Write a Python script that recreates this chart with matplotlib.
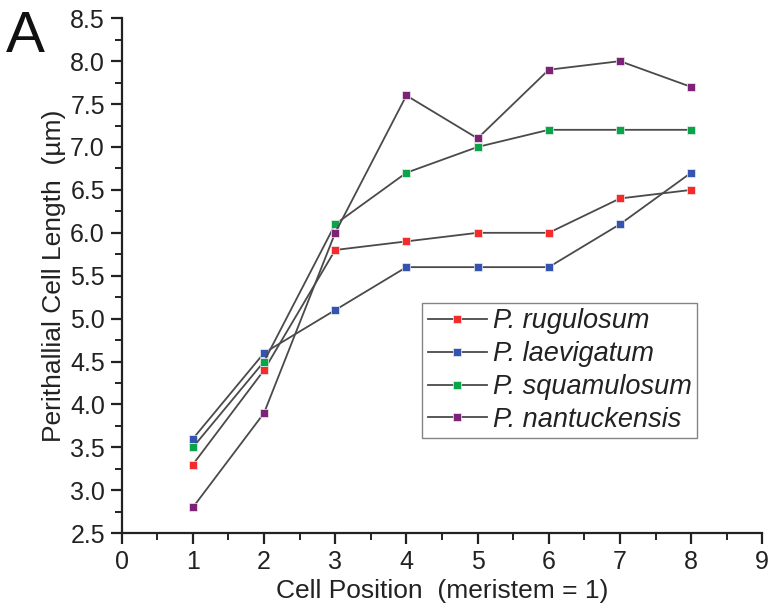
import matplotlib
matplotlib.use("Agg")
import matplotlib.pyplot as plt
from matplotlib.ticker import MultipleLocator
import numpy as np

plt.rcParams['font.family'] = ['Liberation Sans', 'DejaVu Sans']

positions = [1, 2, 3, 4, 5, 6, 7, 8]
rugulosum = [3.3, 4.4, 5.8, 5.9, 6.0, 6.0, 6.4, 6.5]
laevigatum = [3.6, 4.6, 5.1, 5.6, 5.6, 5.6, 6.1, 6.7]
squamulosum = [3.5, 4.5, 6.1, 6.7, 7.0, 7.2, 7.2, 7.2]
nantuckensis = [2.8, 3.9, 6.0, 7.6, 7.1, 7.9, 8.0, 7.7]

names = ['P. rugulosum', 'P. laevigatum', 'P. squamulosum', 'P. nantuckensis']
colors = ['#f52a2a', '#3553b0', '#0aa54a', '#7e2278']

fig = plt.figure(figsize=(7.7, 6.08), dpi=100)
ax = fig.add_axes([0.158, 0.123, 0.832, 0.847])

for ys, name, c in zip([rugulosum, laevigatum, squamulosum, nantuckensis], names, colors):
    ax.plot(positions, ys, color='#4a4a4a', lw=1.3, marker='s', ms=6,
            mfc=c, mec='#f0f0f0', mew=0.5, label=name)

ax.set_xlim(0, 9)
ax.set_ylim(2.5, 8.5)
ax.xaxis.set_major_locator(MultipleLocator(1))
ax.xaxis.set_minor_locator(MultipleLocator(0.5))
ax.yaxis.set_major_locator(MultipleLocator(0.5))
ax.yaxis.set_minor_locator(MultipleLocator(0.25))
ax.yaxis.set_major_formatter(matplotlib.ticker.FormatStrFormatter('%.1f'))

for s in ['top', 'right']:
    ax.spines[s].set_visible(False)
for s in ['left', 'bottom']:
    ax.spines[s].set_linewidth(1.6)
    ax.spines[s].set_color('#222222')

ax.tick_params(which='major', direction='out', length=8, width=1.6, labelsize=18,
               color='#222222', labelcolor='#222222', pad=4)
ax.tick_params(which='minor', direction='out', length=5, width=1.4, color='#222222')

ax.set_xlabel('Cell Position  (meristem = 1)', fontsize=19, color='#222222', labelpad=4)
ax.set_ylabel('Perithallial Cell Length  (\u00b5m)', fontsize=19, color='#222222', labelpad=3)

leg = ax.legend(loc='upper left', bbox_to_anchor=(0.469, 0.447),
                prop={'style': 'italic', 'size': 19.5}, frameon=True, fancybox=False,
                edgecolor='#666666', handlelength=2.2, handletextpad=0.2,
                borderpad=0.2, labelspacing=0.25, borderaxespad=0)
leg.get_frame().set_linewidth(1.0)
for t in leg.get_texts():
    t.set_color('#222222')

fig.text(0.008, 0.915, 'A', fontsize=42, color='#111111')

fig.savefig('out.png', dpi=100)
